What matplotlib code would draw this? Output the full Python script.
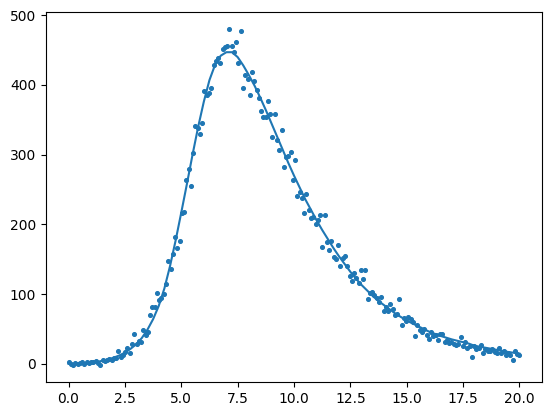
import matplotlib
import numpy as np
import matplotlib.pyplot as plt

matplotlib.use('Agg')

# measured points, evenly spaced on 0..20
x_points = np.linspace(0, 20, 200)
y_points = [
    3, 0, -1, 1, 0, 1, 2, 0, 2, 1, 3, 2, 4, 1, -2,
    5, 4, 6, 7, 5, 8, 9, 19, 10, 13, 17, 22, 16, 28, 43,
    29, 33, 31, 49, 41, 46, 70, 81, 81, 102,
    91, 94, 100, 114, 147, 136, 157, 182, 166, 176,
    217, 218, 264, 280, 255, 303, 341, 338, 329, 346,
    392, 385, 388, 395, 428, 434, 438, 432, 452, 454,
    456, 480, 456, 447, 462, 432, 478, 395, 414, 409,
    385, 419, 405, 393, 382, 362, 354, 354, 377, 358,
    326, 358, 321, 306, 335, 282, 296, 298, 304, 264,
    292, 241, 247, 238, 216, 244, 221, 209, 210, 201,
    206, 213, 168, 214, 175, 163, 176, 153, 151, 171,
    140, 152, 155, 140, 126, 119, 130, 123, 116, 134,
    121, 134, 93, 102, 103, 99, 94, 89, 96, 76,
    82, 76, 86, 79, 70, 72, 93, 56, 66, 61,
    67, 64, 60, 40, 55, 49, 45, 50, 42, 35,
    46, 40, 42, 34, 43, 43, 31, 34, 30, 31,
    29, 27, 29, 38, 26, 31, 22, 25, 10, 26,
    21, 23, 27, 16, 21, 19, 18, 21, 17, 16,
    23, 15, 18, 13, 16, 12, 6, 19, 14, 13,
]

# fitted curve, read every 0.25
x_fit = np.arange(0, 20.01, 0.25)
y_fit = [
    0, 0.1, 0.3, 0.8, 1.6, 2.8, 4.3, 6.2, 8.8, 12,
    16, 21.5, 28, 37, 49, 64, 83, 108, 140, 177,
    217, 258, 300, 340, 376, 407, 429, 442, 447, 447,
    440, 428, 414, 399, 382, 364, 345, 326, 307, 288,
    270, 253, 236, 221, 206, 192, 179, 166, 154, 143,
    132, 122, 113, 105, 97, 90, 84, 78, 72, 67,
    62, 58, 54, 50, 46, 43, 40, 37.5, 35, 33,
    31, 29, 26, 24.5, 23, 21.5, 20, 18.5, 17, 15.8,
    14.6,
]

fig = plt.figure(figsize=(5.52, 4.16), dpi=100)
ax = fig.add_axes([46 / 552, 1 - 382 / 416, 496 / 552, 369.6 / 416])
ax.scatter(x_points, y_points, s=7, color='C0')
ax.plot(x_fit, y_fit, color='C0')
fig.savefig('out.png', dpi=100)
plt.close()
